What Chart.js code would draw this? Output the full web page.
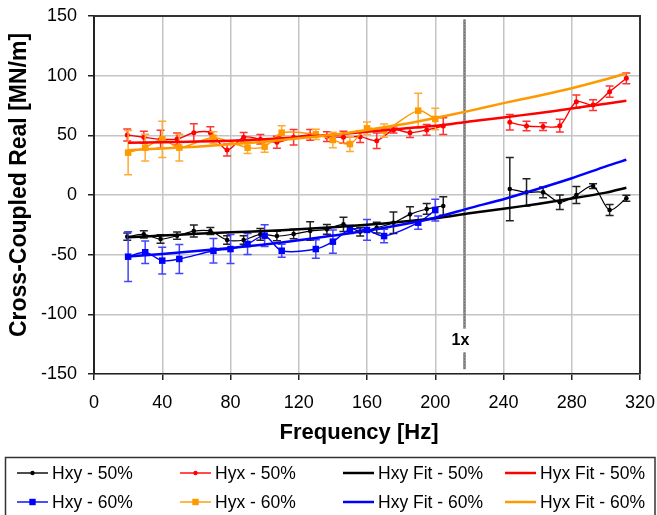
<!DOCTYPE html>
<html>
<head>
<meta charset="utf-8">
<title>Cross-Coupled Real Stiffness</title>
<script src="https://cdn.jsdelivr.net/npm/chart.js@4.4.0/dist/chart.umd.min.js"></script>
<style>
  html, body { margin: 0; padding: 0; background: #ffffff; }
  #wrap { width: 657px; height: 515px; }
  canvas { display: block; }
</style>
</head>
<body>
<div id="wrap"><canvas id="chart" width="657" height="515"></canvas></div>
<script>
// ---- measured cross-coupled stiffness, real part [MN/m] ----
// 50% load: one frequency grid, with no data between ~205 and ~244 Hz (null = gap)
const freq50 = [19.5, 29.2, 39, 48.7, 58.5, 68.2, 78, 87.7, 97.5, 107.2, 117, 126.7, 136.5,
                146.2, 156, 165.7, 175.5, 185.2, 195, 204.7, 224.2, 243.7, 253.5, 263.2, 273,
                282.7, 292.5, 302.2, 312];
const hxy50    = [-34.9, -33, -36.9, -34.1, -30.2, -30.2, -37.7, -37.7, -33, -34.4, -32.7, -30.2, -28.8,
                  -24.6, -30.8, -27.4, -23.2, -16.2, -11.7, -9.2, null, 5, 2.2, 2.2, -6.1,
                  0, 7.5, -12.6, -2.8];
const hxy50Err = [3, 3, 3.5, 3, 5, 3, 3.5, 3.5, 5, 4, 4, 7.7, 4,
                  6, 3.5, 4.5, 9, 6.3, 4.5, 7.8, null, 26.5, 11.5, 4.5, 6,
                  7.2, 2, 4.6, 2.5];
const hyx50    = [50.3, 48.4, 46.7, 46.9, 52.2, 52.2, 37.7, 48.4, 46.7, 44.2, 48.4, 50.3, 48.9,
                  48.4, 48.9, 45.5, 54.5, 52.2, 54.5, 57.8, null, 60.9, 57.8, 57.3, 58.1,
                  78.2, 75.4, 86.6, 97.8];
const hyx50Err = [5, 5, 7.5, 5, 7.5, 5, 5, 4, 4, 5, 6.5, 4.5, 4,
                  5, 5, 6.5, 2.5, 4, 4.5, 7, null, 6.5, 4, 3.3, 5.3,
                  5.5, 4.5, 4.7, 4.5];

// 60% load
const hxyFreq60 = [20, 30, 40, 50, 70, 80, 90, 100, 110, 130, 140, 150, 160, 170, 190, 200];
const hxy60     = [-51.7, -48, -55, -53.6, -46.7, -45.3, -41.1, -34.1, -46.7, -45.3, -39.1, -28.8, -29.3, -34.4, -23.2, -12.6];
const hxy60Err  = [20.8, 9.5, 11.2, 12.2, 10.3, 12.2, 8.8, 9.1, 5.4, 7.7, 9.8, 3.5, 8.7, 5.6, 5.5, 9.1];
const hyxFreq60 = [20, 30, 40, 50, 70, 90, 100, 110, 130, 140, 150, 160, 170, 190, 200];
const hyx60     = [35.5, 39.7, 46.7, 39.7, 48, 39.7, 40.5, 52.2, 50.8, 46.1, 42.7, 55.9, 53.9, 70.7, 63.7];
const hyx60Err  = [18.5, 11.2, 15.2, 11.3, 4.9, 4.9, 4.6, 5.8, 4.2, 6.5, 6.3, 5.3, 5.5, 14.6, 9.1];

// ---- fitted curves ----
const fitFreq   = [20, 40, 60, 80, 100, 120, 140, 160, 180, 200, 220, 240, 260, 280, 300, 312];
const hxyFit50  = [-35.5, -34, -32.5, -31.3, -30.2, -28.8, -27, -25, -22.5, -19.5, -15.3, -11.5, -7.5, -3, 2, 6];
const hyxFit50  = [43.8, 44.2, 44.8, 45.5, 46.8, 48.5, 50.5, 53, 55.5, 58, 61.5, 65, 68.5, 72.5, 76.5, 79];
const hxyFit60  = [-51.5, -49.5, -47, -44.5, -41.5, -38, -34, -30, -25, -19, -11, -3.5, 5, 14, 24, 29.5];
const hyxFit60  = [37.5, 39, 40.5, 42.5, 44.7, 47.5, 50.5, 54.5, 59, 64.5, 70.5, 77, 83, 89.5, 97, 102];

// running-speed marker
const oneXFreq = 217;
const oneXLabel = '1x';

// axes
const xTicks = { min: 0, max: 320, step: 40 };
const yTicks = { min: -150, max: 150, step: 50 };

const FONT = "'Liberation Sans', Arial, Helvetica, sans-serif";

function pts(xs, ys) { return xs.map((x, i) => ({ x: x, y: ys[i] })); }

function dataSeries(label, xs, ys, errs, color, errColor, style, radius, width, order) {
  return {
    label: label, data: pts(xs, ys), errors: errs, errorColor: errColor,
    borderColor: color, backgroundColor: color, borderWidth: width,
    pointStyle: style, pointRadius: radius, pointHoverRadius: radius,
    pointBorderWidth: 0, showLine: true, tension: 0.3, spanGaps: false, order: order
  };
}
function fitSeries(label, ys, color, order) {
  return {
    label: label, data: pts(fitFreq, ys), borderColor: color, backgroundColor: color,
    borderWidth: 2.5, pointRadius: 0, pointHoverRadius: 0, showLine: true,
    tension: 0.2, order: order
  };
}

const datasets = [
  dataSeries('Hxy - 50%', freq50, hxy50, hxy50Err, '#000000', '#222222', 'circle', 2.3, 1.2, 8),
  dataSeries('Hyx - 50%', freq50, hyx50, hyx50Err, '#ff0000', '#ff3333', 'circle', 2.5, 1.4, 7),
  dataSeries('Hxy - 60%', hxyFreq60, hxy60, hxy60Err, '#0000ff', '#4444ff', 'rect', 4.6, 1.4, 6),
  dataSeries('Hyx - 60%', hyxFreq60, hyx60, hyx60Err, '#ff9900', '#ffaa33', 'rect', 4.6, 1.4, 5),
  fitSeries('Hxy Fit - 50%', hxyFit50, '#000000', 4),
  fitSeries('Hyx Fit - 50%', hyxFit50, '#ff0000', 3),
  fitSeries('Hxy Fit - 60%', hxyFit60, '#0000ff', 2),
  fitSeries('Hyx Fit - 60%', hyxFit60, '#ff9900', 1)
];

// error bars with caps, drawn just before each series
const errorBars = {
  id: 'errorBars',
  beforeDatasetDraw(chart, args) {
    const ds = chart.data.datasets[args.index];
    if (!ds.errors) return;
    const xs = chart.scales.x, ys = chart.scales.y, ctx = chart.ctx;
    ctx.save();
    ctx.strokeStyle = ds.errorColor;
    ctx.lineWidth = 1.5;
    ds.data.forEach((p, i) => {
      const e = ds.errors[i];
      if (p.y === null || e === null || e === undefined) return;
      const px = xs.getPixelForValue(p.x);
      const top = ys.getPixelForValue(p.y + e);
      const bot = ys.getPixelForValue(p.y - e);
      ctx.beginPath();
      ctx.moveTo(px, top); ctx.lineTo(px, bot);
      ctx.moveTo(px - 4, top); ctx.lineTo(px + 4, top);
      ctx.moveTo(px - 4, bot); ctx.lineTo(px + 4, bot);
      ctx.stroke();
    });
    ctx.restore();
  }
};

// plot frame, 1x marker, axis titles and legend box
const decorations = {
  id: 'decorations',
  beforeDatasetsDraw(chart) {
    const { ctx, chartArea: a } = chart;
    const xs = chart.scales.x, ys = chart.scales.y;
    ctx.save();
    // top and right frame edges
    ctx.strokeStyle = '#333333';
    ctx.lineWidth = 2;
    ctx.beginPath();
    ctx.moveTo(a.left, a.top); ctx.lineTo(a.right, a.top); ctx.lineTo(a.right, a.bottom);
    ctx.stroke();
    // 1x running-speed line
    const px = Math.round(xs.getPixelForValue(oneXFreq)) + 0.5;
    ctx.lineWidth = 3;
    ctx.strokeStyle = '#9a9a9a';
    ctx.beginPath();
    ctx.moveTo(px, ys.getPixelForValue(147)); ctx.lineTo(px, ys.getPixelForValue(-112));
    ctx.moveTo(px, ys.getPixelForValue(-132)); ctx.lineTo(px, ys.getPixelForValue(-146));
    ctx.stroke();
    ctx.lineWidth = 1;
    ctx.strokeStyle = '#555555';
    ctx.setLineDash([1, 2]);
    ctx.stroke();
    ctx.setLineDash([]);
    ctx.fillStyle = '#000000';
    ctx.font = 'bold 16px ' + FONT;
    ctx.textAlign = 'center';
    ctx.textBaseline = 'middle';
    ctx.fillText(oneXLabel, px - 4, ys.getPixelForValue(-122));
    ctx.restore();
  },
  afterDraw(chart) {
    const { ctx, chartArea: a } = chart;
    ctx.save();
    ctx.fillStyle = '#000000';
    ctx.textAlign = 'center';
    ctx.textBaseline = 'middle';
    ctx.font = 'bold 22px ' + FONT;
    ctx.fillText('Frequency [Hz]', 359, 433);
    ctx.translate(20, 185);
    ctx.rotate(-Math.PI / 2);
    ctx.font = 'bold 23px ' + FONT;
    ctx.fillText('Cross-Coupled Real [MN/m]', 0, 0);
    ctx.restore();

    // legend
    ctx.save();
    ctx.strokeStyle = '#333333';
    ctx.lineWidth = 1.5;
    ctx.strokeRect(5.5, 457.5, 649.5, 70);
    const cols = [17, 180, 343, 505];
    const rows = [473, 502];
    chart.data.datasets.forEach((ds, i) => {
      const isFit = i >= 4;
      const j = isFit ? i - 4 : i;
      const x0 = cols[(isFit ? 2 : 0) + (j % 2)];
      const y0 = rows[Math.floor(j / 2)];
      ctx.strokeStyle = ds.borderColor;
      ctx.lineWidth = isFit ? 2.5 : 1.4;
      ctx.beginPath();
      ctx.moveTo(x0, y0); ctx.lineTo(x0 + 31, y0);
      ctx.stroke();
      if (ds.pointRadius > 0) {
        ctx.fillStyle = ds.backgroundColor;
        const cx = x0 + 15.5;
        if (ds.pointStyle === 'rect') {
          ctx.fillRect(cx - 3.2, y0 - 3.2, 6.4, 6.4);
        } else {
          ctx.beginPath(); ctx.arc(cx, y0, 2.2, 0, Math.PI * 2); ctx.fill();
        }
      }
      ctx.fillStyle = '#000000';
      ctx.font = '17.5px ' + FONT;
      ctx.textAlign = 'left';
      ctx.textBaseline = 'middle';
      ctx.fillText(ds.label, x0 + 35, y0 + 1);
    });
    ctx.restore();
  }
};

// keep the plot rectangle fixed: no extra room reserved for overhanging tick labels
function noLabelPadding(s) {
  s.paddingLeft = 0; s.paddingRight = 0; s.paddingTop = 0; s.paddingBottom = 0;
}

new Chart(document.getElementById('chart'), {
  type: 'scatter',
  data: { datasets: datasets },
  plugins: [errorBars, decorations],
  options: {
    responsive: false,
    animation: false,
    devicePixelRatio: 1,
    layout: { padding: { left: 0, right: 17, top: 16, bottom: 81 } },
    plugins: { legend: { display: false }, tooltip: { enabled: false } },
    scales: {
      x: {
        type: 'linear', min: xTicks.min, max: xTicks.max,
        afterFit(s) { s.height = 60; noLabelPadding(s); },
        ticks: { stepSize: xTicks.step, padding: 12, color: '#000000', font: { family: FONT, size: 18 } },
        grid: { color: '#c4c4c4', lineWidth: 1.5, tickLength: 6, tickColor: '#222222', tickWidth: 1.5 },
        border: { color: '#222222', width: 1.5 }
      },
      y: {
        type: 'linear', min: yTicks.min, max: yTicks.max,
        afterFit(s) { s.width = 94; noLabelPadding(s); },
        ticks: { stepSize: yTicks.step, padding: 11, color: '#000000', font: { family: FONT, size: 18 } },
        grid: { color: '#c4c4c4', lineWidth: 1.5, tickLength: 6, tickColor: '#222222', tickWidth: 1.5 },
        border: { color: '#222222', width: 2 }
      }
    }
  }
});
</script>
</body>
</html>
